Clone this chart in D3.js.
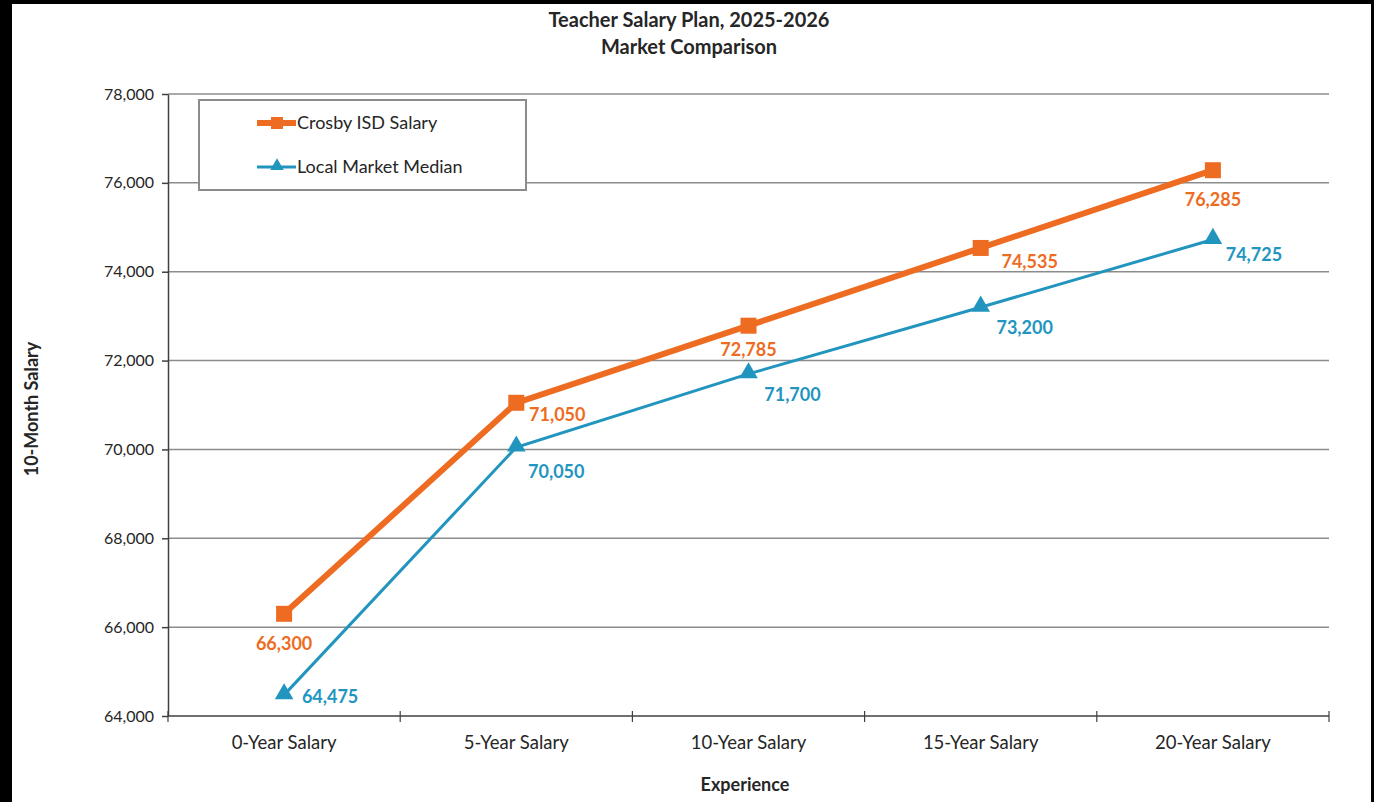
<!DOCTYPE html>
<html>
<head>
<meta charset="utf-8">
<script src="https://cdn.jsdelivr.net/npm/d3@7"></script>
<style>
  body { margin: 0; background: #000; }
  #chart { position: absolute; left: 12px; top: 4px; width: 1359px; height: 798px; background: #fff; }
  text { font-family: Lato, "Open Sans", sans-serif; }
</style>
</head>
<body>
<div id="chart"></div>
<script>
var categories = ['0-Year Salary', '5-Year Salary', '10-Year Salary', '15-Year Salary', '20-Year Salary'];
var crosbySalary = [66300, 71050, 72785, 74535, 76285];
var marketMedian = [64475, 70050, 71700, 73200, 74725];
var yTicks = [64000, 66000, 68000, 70000, 72000, 74000, 76000, 78000];
var seriesNames = ['Crosby ISD Salary', 'Local Market Median'];

// label placement relative to the point (layout only)
var crosbyLabelOffset = [[0, 29], [41, 11], [0, 23], [49, 13], [0, 29]];
var marketLabelOffset = [[46, 1], [40, 24], [44, 20], [44, 20], [41, 14]];

var orange = '#EE6C22';
var blue = '#2295BF';

var width = 1359, height = 798;
// chart div sits at (12,4) of the page
var margin = { left: 156, right: 1359 - 1317, top: 90, bottom: 798 - 712 };

var svg = d3.select('#chart').append('svg')
  .attr('width', width)
  .attr('height', height);

var x = d3.scaleBand()
  .domain(categories)
  .range([margin.left, width - margin.right]);

var y = d3.scaleLinear()
  .domain([64000, 78000])
  .range([height - margin.bottom, margin.top]);

// gridlines
svg.append('g')
  .selectAll('line')
  .data(yTicks.slice(1))
  .enter()
  .append('line')
  .attr('x1', margin.left)
  .attr('x2', width - margin.right)
  .attr('y1', d => y(d))
  .attr('y2', d => y(d))
  .attr('stroke', '#8c8c8c')
  .attr('stroke-width', 1.5);

// y axis
var yAxis = svg.append('g')
  .attr('transform', 'translate(' + margin.left + ',0)')
  .call(d3.axisLeft(y).tickValues(yTicks).tickFormat(d3.format(',')).tickSize(6).tickSizeOuter(0));
yAxis.select('.domain').attr('stroke', '#404040').attr('stroke-width', 1.5);
yAxis.selectAll('.tick line').attr('stroke', '#404040').attr('stroke-width', 1.5);
yAxis.selectAll('.tick text')
  .attr('x', -14)
  .style('font-size', '16px')
  .style('fill', '#262626');

// x axis with ticks at band boundaries
var xAxis = svg.append('g')
  .attr('transform', 'translate(0,' + (height - margin.bottom) + ')');
xAxis.append('line')
  .attr('x1', margin.left)
  .attr('x2', width - margin.right)
  .attr('stroke', '#404040')
  .attr('stroke-width', 1.5);
var bounds = categories.map(c => x(c)).concat([x.range()[1]]);
xAxis.selectAll('.bound')
  .data(bounds)
  .enter()
  .append('line')
  .attr('x1', d => d)
  .attr('x2', d => d)
  .attr('y1', -5)
  .attr('y2', 6)
  .attr('stroke', '#404040')
  .attr('stroke-width', 1.2);
xAxis.selectAll('.cat')
  .data(categories)
  .enter()
  .append('text')
  .attr('x', d => x(d) + x.bandwidth() / 2)
  .attr('y', 33)
  .attr('text-anchor', 'middle')
  .style('font-size', '18.5px')
  .style('fill', '#262626')
  .text(d => d);

// titles
svg.append('text')
  .attr('x', 677).attr('y', 23)
  .attr('text-anchor', 'middle')
  .style('font-size', '20px').style('font-weight', 700).style('fill', '#262626')
  .text('Teacher Salary Plan, 2025-2026');
svg.append('text')
  .attr('x', 677).attr('y', 50)
  .attr('text-anchor', 'middle')
  .style('font-size', '20px').style('font-weight', 700).style('fill', '#262626')
  .text('Market Comparison');
svg.append('text')
  .attr('x', 733).attr('y', 787)
  .attr('text-anchor', 'middle')
  .style('font-size', '18px').style('font-weight', 700).style('fill', '#262626')
  .text('Experience');
svg.append('text')
  .attr('transform', 'translate(26,405) rotate(-90)')
  .attr('text-anchor', 'middle')
  .style('font-size', '18px').style('font-weight', 700).style('fill', '#262626')
  .text('10-Month Salary');

var cx = (d, i) => x(categories[i]) + x.bandwidth() / 2;
var line = d3.line().x(cx).y(d => y(d));

// market median (blue)
svg.append('path')
  .datum(marketMedian)
  .attr('d', line)
  .attr('fill', 'none')
  .attr('stroke', blue)
  .attr('stroke-width', 3);
svg.selectAll('.tri')
  .data(marketMedian)
  .enter()
  .append('path')
  .attr('d', d3.symbol().type(d3.symbolTriangle).size(150))
  .attr('transform', (d, i) => 'translate(' + cx(d, i) + ',' + (y(d) - 1) + ')')
  .attr('fill', blue);

// crosby (orange)
svg.append('path')
  .datum(crosbySalary)
  .attr('d', line)
  .attr('fill', 'none')
  .attr('stroke', orange)
  .attr('stroke-width', 6);
svg.selectAll('.sq')
  .data(crosbySalary)
  .enter()
  .append('rect')
  .attr('x', (d, i) => cx(d, i) - 8)
  .attr('y', d => y(d) - 8)
  .attr('width', 16)
  .attr('height', 16)
  .attr('fill', orange);

// data labels
svg.selectAll('.lblC')
  .data(crosbySalary)
  .enter()
  .append('text')
  .attr('x', (d, i) => cx(d, i) + crosbyLabelOffset[i][0])
  .attr('y', (d, i) => y(d) + crosbyLabelOffset[i][1] + 7)
  .attr('text-anchor', 'middle')
  .style('font-size', '18px').style('font-weight', 700).style('fill', orange)
  .text(d => d3.format(',')(d));
svg.selectAll('.lblM')
  .data(marketMedian)
  .enter()
  .append('text')
  .attr('x', (d, i) => cx(d, i) + marketLabelOffset[i][0])
  .attr('y', (d, i) => y(d) + marketLabelOffset[i][1] + 7)
  .attr('text-anchor', 'middle')
  .style('font-size', '18px').style('font-weight', 700).style('fill', blue)
  .text(d => d3.format(',')(d));

// legend
var legend = svg.append('g').attr('transform', 'translate(187,96)');
legend.append('rect')
  .attr('width', 327).attr('height', 90)
  .attr('fill', '#fff')
  .attr('stroke', '#8c8c8c')
  .attr('stroke-width', 2);
var items = legend.selectAll('.item')
  .data(seriesNames)
  .enter()
  .append('g')
  .attr('transform', (d, i) => 'translate(0,' + (23 + i * 44) + ')');
items.append('line')
  .attr('x1', 58).attr('x2', 97)
  .attr('stroke', (d, i) => i === 0 ? orange : blue)
  .attr('stroke-width', (d, i) => i === 0 ? 6 : 3);
items.each(function (d, i) {
  var g = d3.select(this);
  if (i === 0) {
    g.append('rect').attr('x', 72).attr('y', -6).attr('width', 12).attr('height', 12).attr('fill', orange);
  } else {
    g.append('path').attr('d', d3.symbol().type(d3.symbolTriangle).size(80))
      .attr('transform', 'translate(78,-1)').attr('fill', blue);
  }
});
items.append('text')
  .attr('x', 98).attr('y', 6)
  .style('font-size', '18px').style('fill', '#262626')
  .text(d => d);
</script>
</body>
</html>
